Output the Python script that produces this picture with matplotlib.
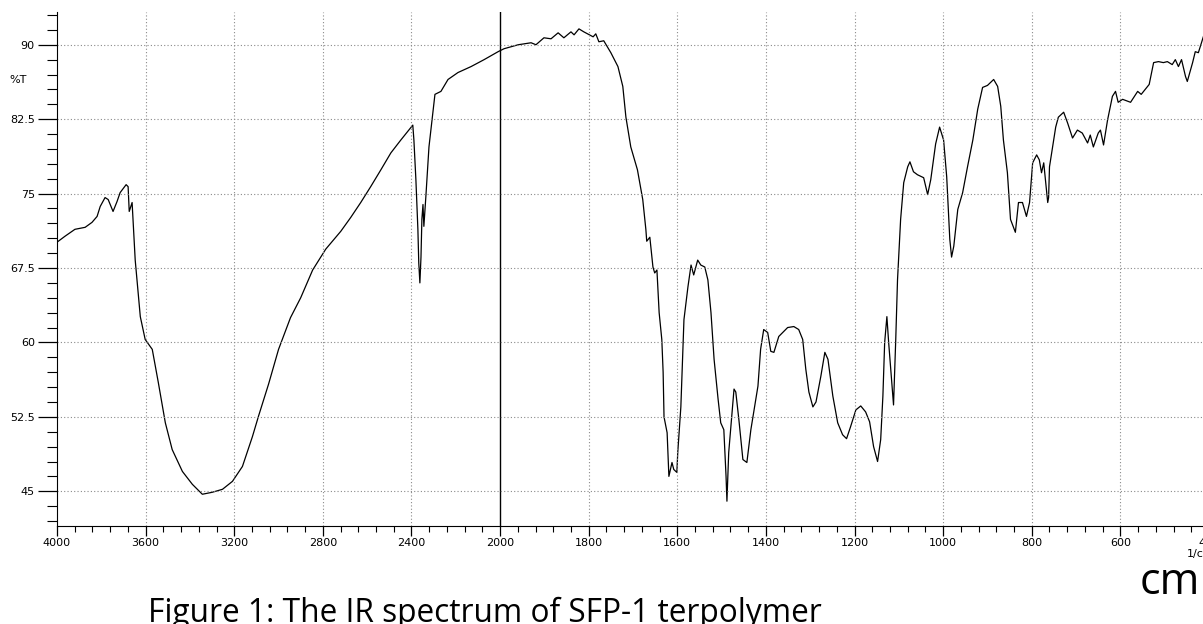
import numpy as np
import matplotlib
matplotlib.use("Agg")
import matplotlib.pyplot as plt
from matplotlib.ticker import FixedLocator

# IR spectrum (wavenumber 1/cm, %T)
wavenumber = [4000, 3964, 3919, 3873, 3842, 3819, 3805, 3783, 3769, 3747, 3729, 3715, 3688, 3679, 3674, 3661,
              3647, 3624, 3602, 3570, 3543, 3511, 3480, 3434, 3389, 3344, 3299, 3253, 3208, 3163, 3118, 3090,
              3045, 3000, 2946, 2900, 2846, 2787, 2719, 2674, 2629, 2584, 2538, 2493, 2448, 2394, 2389, 2380,
              2371, 2367, 2362, 2357, 2353, 2348, 2344, 2335, 2321, 2303, 2294, 2267, 2235, 2190, 2131, 2072,
              2009, 1991, 1959, 1930, 1919, 1901, 1885, 1869, 1856, 1840, 1833, 1822, 1811, 1790, 1784, 1777,
              1766, 1750, 1734, 1723, 1716, 1705, 1690, 1678, 1671, 1669, 1662, 1655, 1651, 1646, 1641, 1635,
              1632, 1630, 1623, 1619, 1612, 1608, 1601, 1599, 1592, 1585, 1576, 1569, 1563, 1554, 1547, 1538,
              1531, 1524, 1517, 1508, 1502, 1495, 1490, 1488, 1484, 1472, 1468, 1461, 1452, 1443, 1434, 1418,
              1412, 1405, 1396, 1389, 1382, 1371, 1362, 1351, 1337, 1326, 1317, 1310, 1303, 1294, 1287, 1276,
              1267, 1260, 1249, 1238, 1227, 1218, 1209, 1197, 1186, 1175, 1166, 1157, 1148, 1141, 1136, 1132,
              1127, 1123, 1116, 1112, 1107, 1103, 1096, 1089, 1080, 1075, 1067, 1058, 1044, 1035, 1028, 1017,
              1008, 999, 992, 985, 981, 976, 967, 956, 945, 933, 922, 911, 900, 886, 877, 870,
              864, 855, 848, 837, 830, 821, 812, 805, 798, 789, 783, 778, 773, 764, 762, 760,
              753, 746, 740, 728, 719, 708, 697, 686, 674, 668, 661, 650, 645, 638, 629, 618,
              611, 605, 595, 577, 561, 553, 544, 535, 525, 514, 503, 494, 483, 476, 469, 462,
              453, 449, 437, 431, 424, 417, 410, 404]
transmittance = [70.1, 70.7, 71.4, 71.6, 72.1, 72.7, 73.7, 74.6, 74.4, 73.2, 74.2, 75.1, 75.9, 75.7, 73.2, 74.1,
                 68.3, 62.6, 60.3, 59.3, 56.0, 51.9, 49.2, 47.0, 45.7, 44.7, 44.9, 45.2, 46.0, 47.5, 50.5, 52.6,
                 55.8, 59.3, 62.5, 64.5, 67.3, 69.4, 71.2, 72.6, 74.1, 75.7, 77.4, 79.1, 80.4, 81.9, 80.4, 76.4,
                 71.4, 68.0, 66.0, 68.6, 72.4, 73.9, 71.7, 74.7, 79.7, 83.2, 85.0, 85.3, 86.5, 87.2, 87.8, 88.5,
                 89.3, 89.6, 90.0, 90.2, 90.0, 90.7, 90.6, 91.2, 90.7, 91.3, 91.0, 91.6, 91.3, 90.8, 91.1, 90.3,
                 90.4, 89.2, 87.8, 85.8, 82.7, 79.7, 77.4, 74.4, 71.4, 70.2, 70.6, 67.6, 67.0, 67.3, 63.0, 60.3,
                 57.0, 52.5, 50.9, 46.5, 47.9, 47.2, 46.9, 48.9, 53.5, 62.3, 65.6, 67.8, 66.8, 68.3, 67.8, 67.6,
                 66.3, 63.0, 58.3, 54.3, 51.9, 51.2, 46.5, 44.0, 48.9, 55.3, 55.0, 52.2, 48.2, 47.9, 51.2, 55.6,
                 59.3, 61.3, 61.0, 59.1, 59.0, 60.6, 61.0, 61.5, 61.6, 61.3, 60.3, 57.3, 55.0, 53.5, 54.0, 56.6,
                 59.0, 58.3, 54.6, 51.9, 50.7, 50.3, 51.5, 53.2, 53.6, 53.0, 52.0, 49.5, 48.0, 50.2, 54.6, 60.0,
                 62.6, 60.0, 56.0, 53.7, 60.3, 66.3, 72.4, 76.1, 77.7, 78.2, 77.2, 76.9, 76.6, 74.9, 76.4, 80.0,
                 81.7, 80.4, 76.7, 70.4, 68.6, 69.7, 73.4, 75.1, 77.7, 80.4, 83.5, 85.7, 85.9, 86.5, 85.8, 83.8,
                 80.4, 77.1, 72.4, 71.1, 74.1, 74.1, 72.7, 74.1, 78.1, 78.9, 78.4, 77.1, 78.1, 74.1, 74.6, 77.7,
                 79.7, 81.7, 82.7, 83.2, 82.1, 80.6, 81.4, 81.1, 80.1, 80.9, 79.7, 81.1, 81.4, 79.9, 82.4, 84.8,
                 85.3, 84.2, 84.5, 84.2, 85.3, 85.0, 85.5, 86.0, 88.2, 88.3, 88.2, 88.3, 88.0, 88.5, 87.8, 88.5,
                 86.8, 86.3, 88.2, 89.3, 89.2, 90.2, 91.2, 91.6]

x_major = [4000, 3600, 3200, 2800, 2400, 2000, 1800, 1600, 1400, 1200, 1000, 800, 600, 400]
y_major = [45, 52.5, 60, 67.5, 75, 82.5, 90]


# spectrometer chart: 4000-2000 drawn at half the scale of 2000-400
def forward(w):
    w = np.asarray(w, dtype=float)
    return np.where(w > 2000, 2000 + (w - 2000) / 2.0, w)


def inverse(u):
    u = np.asarray(u, dtype=float)
    return np.where(u > 2000, 2000 + (u - 2000) * 2.0, u)


fig = plt.figure(figsize=(12.03, 6.24), dpi=100)
ax = fig.add_axes([57 / 1203, 98 / 624, 1152 / 1203, 514 / 624])
ax.set_xscale("function", functions=(forward, inverse))
ax.set_xlim(4000, 400)
ax.set_ylim(41.5, 93.3)

ax.plot(wavenumber, transmittance, color="black", lw=0.9)
ax.axvline(2000, color="black", lw=1.0)

minor_x = list(range(4000, 2000, -80)) + list(range(2000, 399, -40))
ax.xaxis.set_major_locator(FixedLocator(x_major))
ax.xaxis.set_minor_locator(FixedLocator(minor_x))
ax.yaxis.set_major_locator(FixedLocator(y_major))
ax.yaxis.set_minor_locator(FixedLocator(np.arange(42, 93.5, 1.5)))
ax.set_xticklabels([str(v) for v in x_major])
ax.set_yticklabels(["45", "52.5", "60", "67.5", "75", "82.5", "90"])

ax.tick_params(axis="x", which="major", length=7, width=0.9, labelsize=8, pad=2)
ax.tick_params(axis="x", which="minor", length=4, width=0.8)
ax.tick_params(axis="y", which="major", length=14, width=0.9, labelsize=8, pad=2)
ax.tick_params(axis="y", which="minor", length=7, width=0.8)

for v in x_major[1:-1]:
    if v != 2000:
        ax.axvline(v, color="#8a8a8a", lw=0.8, ls=(0, (1, 2)))
for v in y_major:
    ax.axhline(v, color="#8a8a8a", lw=0.8, ls=(0, (1, 2)))

ax.spines["top"].set_visible(False)
ax.spines["right"].set_visible(False)

ax.text(-0.026, 86.4, "%T", transform=ax.get_yaxis_transform(), ha="right", va="center", fontsize=8)
fig.text(1187 / 1203, 1 - 554 / 624, "1/cm", ha="left", va="center", fontsize=8)

fig.text(148 / 1203, 2 / 624, "Figure 1: The IR spectrum of SFP-1 terpolymer",
         family="Open Sans", fontsize=22.8, ha="left", va="baseline")
fig.text(1140 / 1203, 30 / 624, "cm", family="Open Sans", fontsize=31, ha="left", va="baseline")

fig.savefig("out.png", dpi=100)
